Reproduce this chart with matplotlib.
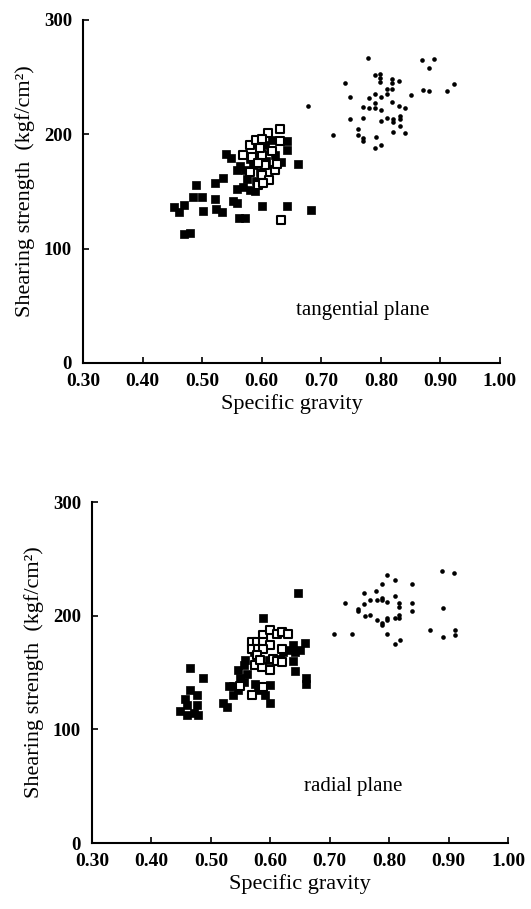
import matplotlib.pyplot as plt
import numpy as np

plt.rcParams['font.family'] = ['Liberation Serif', 'DejaVu Serif']

# ---- tangential plane ----
tan_filled_x = [0.540, 0.549, 0.490, 0.522, 0.535, 0.661, 0.485, 0.499, 0.453, 0.461,
                0.470, 0.502, 0.522, 0.524, 0.533, 0.551, 0.559, 0.562, 0.572, 0.601,
                0.643, 0.682, 0.470, 0.480, 0.559, 0.569, 0.580, 0.589, 0.563, 0.572,
                0.586, 0.597, 0.608, 0.622, 0.633, 0.642, 0.643, 0.575, 0.591, 0.617,
                0.605, 0.558, 0.580, 0.620]
tan_filled_y = [183, 179, 156, 157, 162, 174, 145, 145, 136, 132,
                138, 133, 143, 135, 132, 142, 140, 127, 127, 137,
                137, 134, 113, 114, 152, 154, 151, 150, 172, 169,
                173, 167, 177, 182, 176, 194, 186, 161, 159, 195,
                191, 169, 178, 170]

tan_open_x = [0.631, 0.631, 0.611, 0.580, 0.590, 0.601, 0.569, 0.581, 0.600, 0.612,
              0.622, 0.593, 0.603, 0.632, 0.600, 0.605, 0.625, 0.583, 0.597, 0.617,
              0.594]
tan_open_y = [205, 194, 201, 191, 195, 196, 182, 167, 164, 160,
              169, 156, 157, 125, 182, 173, 174, 180, 188, 185,
              175]

tan_dot_x = [0.779, 0.869, 0.889, 0.880, 0.740, 0.790, 0.799, 0.799, 0.799, 0.819,
             0.819, 0.831, 0.811, 0.819, 0.870, 0.881, 0.911, 0.922, 0.748, 0.780,
             0.790, 0.800, 0.811, 0.851, 0.678, 0.770, 0.780, 0.790, 0.790, 0.800,
             0.819, 0.831, 0.841, 0.748, 0.770, 0.800, 0.811, 0.821, 0.821, 0.832,
             0.832, 0.832, 0.761, 0.719, 0.761, 0.770, 0.770, 0.792, 0.821, 0.841,
             0.800, 0.791]
tan_dot_y = [267, 265, 266, 258, 245, 252, 253, 249, 246, 248,
             245, 247, 240, 240, 239, 238, 238, 244, 233, 232,
             235, 233, 235, 234, 225, 224, 223, 227, 223, 221,
             228, 225, 223, 213, 214, 212, 214, 213, 211, 216,
             213, 207, 205, 199, 199, 197, 194, 198, 202, 201,
             191, 188]

# ---- radial plane ----
rad_filled_x = [0.647, 0.587, 0.465, 0.486, 0.465, 0.457, 0.476, 0.477, 0.448, 0.459,
                0.471, 0.479, 0.459, 0.521, 0.527, 0.530, 0.538, 0.538, 0.546, 0.549,
                0.555, 0.546, 0.555, 0.558, 0.560, 0.572, 0.577, 0.572, 0.574, 0.586,
                0.591, 0.600, 0.600, 0.597, 0.622, 0.631, 0.639, 0.642, 0.650,
                0.659, 0.639, 0.641, 0.660, 0.660, 0.617, 0.580]
rad_filled_y = [220, 198, 154, 145, 135, 127, 130, 121, 116, 113,
                114, 113, 121, 123, 120, 138, 130, 138, 135, 145,
                142, 152, 157, 161, 149, 157, 161, 168, 140, 138,
                130, 139, 123, 161, 168, 170, 174, 168, 170,
                176, 160, 151, 145, 140, 162, 135]

rad_open_x = [0.587, 0.600, 0.611, 0.619, 0.629, 0.569, 0.577, 0.588, 0.600, 0.569,
              0.580, 0.588, 0.619, 0.605, 0.611, 0.620, 0.577, 0.574, 0.600, 0.586,
              0.570, 0.588, 0.549, 0.583]
rad_open_y = [183, 187, 184, 186, 184, 177, 177, 177, 174, 171,
              171, 171, 171, 162, 160, 159, 165, 157, 152, 155,
              130, 137, 138, 161]

rad_dot_x = [0.796, 0.889, 0.909, 0.788, 0.809, 0.839, 0.757, 0.778, 0.725, 0.758,
             0.767, 0.779, 0.788, 0.788, 0.797, 0.809, 0.817, 0.817, 0.839, 0.890,
             0.747, 0.747, 0.767, 0.759, 0.779, 0.788, 0.788, 0.797, 0.797, 0.809,
             0.817, 0.817, 0.839, 0.708, 0.737, 0.797, 0.819, 0.810, 0.869, 0.890,
             0.911, 0.911]
rad_dot_y = [236, 239, 238, 228, 231, 228, 220, 222, 211, 210,
             214, 214, 216, 214, 212, 217, 211, 208, 211, 207,
             206, 204, 201, 200, 196, 194, 192, 196, 198, 198,
             201, 198, 204, 184, 184, 184, 179, 175, 187, 181,
             187, 183]

xticks = [0.30, 0.40, 0.50, 0.60, 0.70, 0.80, 0.90, 1.00]
yticks = [0, 100, 200, 300]

fig = plt.figure(figsize=(5.31, 9.09), dpi=100)


def draw_panel(rect, filled, opened, dots, note, note_xy):
    ax = fig.add_axes(rect)
    ax.scatter(filled[0], filled[1], marker='s', s=40, c='black', edgecolors='black',
               linewidths=0.5, zorder=3)
    ax.scatter(opened[0], opened[1], marker='s', s=30, facecolors='white',
               edgecolors='black', linewidths=1.5, zorder=4)
    ax.scatter(dots[0], dots[1], marker='o', s=11, c='black', linewidths=0, zorder=3)

    ax.set_xlim(0.30, 1.00)
    ax.set_ylim(0, 300)
    ax.set_xticks(xticks)
    ax.set_xticklabels(['%.2f' % t for t in xticks], fontsize=14, fontweight='bold')
    ax.set_yticks(yticks)
    ax.set_yticklabels([str(t) for t in yticks], fontsize=13.5, fontweight='bold')
    ax.tick_params(direction='in', length=4, width=1.2)
    ax.tick_params(axis='x', pad=7)
    ax.tick_params(axis='y', pad=8)
    for side in ['top', 'right']:
        ax.spines[side].set_visible(False)
    for side in ['left', 'bottom']:
        ax.spines[side].set_linewidth(1.5)

    ax.set_xlabel('Specific gravity', fontsize=16, labelpad=3)
    ax.set_ylabel('Shearing strength  (kgf/cm²)', fontsize=16, labelpad=6)
    ax.text(note_xy[0], note_xy[1], note, fontsize=15, ha='center', va='center')
    return ax


draw_panel([0.1563, 0.6007, 0.7853, 0.3773],
           (tan_filled_x, tan_filled_y), (tan_open_x, tan_open_y), (tan_dot_x, tan_dot_y),
           'tangential plane', (0.77, 46))
draw_panel([0.1733, 0.0726, 0.7834, 0.3751],
           (rad_filled_x, rad_filled_y), (rad_open_x, rad_open_y), (rad_dot_x, rad_dot_y),
           'radial plane', (0.74, 50))

fig.savefig('out.png', dpi=100)
